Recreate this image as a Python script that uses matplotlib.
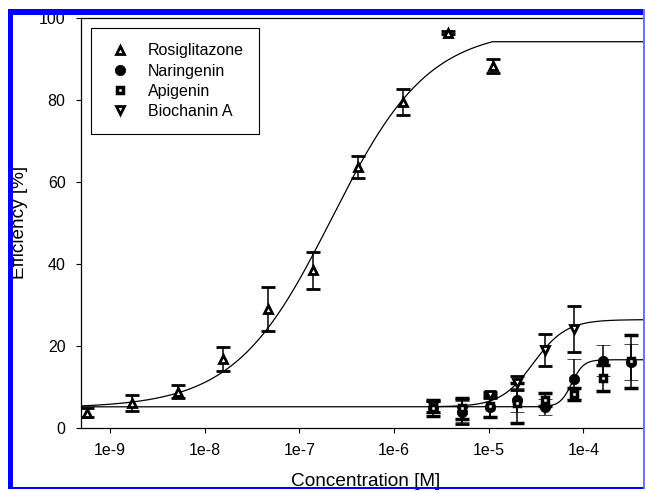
import numpy as np
import matplotlib
matplotlib.use("Agg")
import matplotlib.pyplot as plt
from matplotlib.lines import Line2D
from matplotlib.patches import Rectangle
from matplotlib.ticker import NullLocator

plt.rcParams['font.family'] = ['Liberation Sans', 'DejaVu Sans']

# ---------------- data ----------------
conc_rosi = [5.7e-10, 1.7e-9, 5.2e-9, 1.55e-8, 4.7e-8, 1.38e-7, 4.13e-7, 1.24e-6, 3.7e-6, 1.1e-5]
eff_rosi = [3.7, 6.0, 8.8, 16.8, 29.0, 38.4, 63.6, 79.6, 96.5, 88.4]
err_rosi = [1.2, 2.0, 1.6, 3.0, 5.3, 4.5, 2.7, 3.2, 0.3, 1.7]

conc_flav = [2.6e-6, 5.2e-6, 1.03e-5, 2.0e-5, 3.9e-5, 7.9e-5, 1.6e-4, 3.2e-4]
eff_nar = [4.9, 3.9, 5.1, 6.8, 5.1, 11.8, 16.4, 16.1]
err_nar = [1.3, 2.6, 2.4, 3.0, 2.0, 4.9, 3.8, 4.4]
eff_api = [4.8, 4.7, 5.3, 6.0, 6.8, 8.2, 12.2, 16.2]
err_api = [1.9, 2.5, 2.6, 4.9, 1.6, 1.4, 3.2, 6.45]

conc_bio = [2.6e-6, 5.2e-6, 1.03e-5, 2.0e-5, 3.9e-5, 7.9e-5]
eff_bio = [5.2, 4.0, 8.0, 10.9, 19.0, 24.1]
err_bio = [1.4, 3.0, 0.8, 1.8, 4.0, 5.6]

# fitted 4-parameter logistic curves: (bottom, top, EC50, hill slope)
fit_rosi = (4.8, 97.5, 2.2e-7, 0.85)
fit_nar = (5.1, 16.6, 7.55e-5, 7.0)
fit_bio = (5.1, 26.4, 2.96e-5, 2.5)

labels = ['Rosiglitazone', 'Naringenin', 'Apigenin', 'Biochanin A']
xtick_vals = [1e-9, 1e-8, 1e-7, 1e-6, 1e-5, 1e-4]
xtick_labels = ['1e-9', '1e-8', '1e-7', '1e-6', '1e-5', '1e-4']
ytick_vals = [0, 20, 40, 60, 80, 100]


def hill(x, p):
    b, t, ec, h = p
    return b + (t - b) / (1.0 + (ec / x) ** h)


W, H = 645, 491
fig = plt.figure(figsize=(W / 100, H / 100), dpi=100)
ax = fig.add_axes([81 / W, 1 - 427.7 / H, (W - 81) / W, (427.7 - 18.3) / H])

xmin, xmax = 4.94e-10, 4.48e-4
ax.set_xscale('log')
ax.set_xlim(xmin, xmax)
ax.set_ylim(0, 100)

# curves
xs = np.logspace(np.log10(xmin), np.log10(conc_rosi[-1]), 400)
ys = hill(xs, fit_rosi)
ax.plot(np.append(xs, xmax), np.append(ys, ys[-1]), color='black', lw=0.9, zorder=2)

xs = np.logspace(np.log10(xmin), np.log10(xmax), 600)
ax.plot(xs, hill(xs, fit_nar), color='black', lw=0.9, zorder=2)

xs = np.logspace(np.log10(conc_bio[0]), np.log10(xmax), 400)
ax.plot(xs, hill(xs, fit_bio), color='black', lw=0.9, zorder=2)

ekw = dict(ecolor='black', elinewidth=1.1, capsize=5.2, capthick=1.1, ls='none')
tri = dict(marker='^', ms=6.0, mfc='white', mec='black', mew=2.0)
cir = dict(marker='o', ms=7.5, mfc='black', mec='black', mew=0.5)
sq = dict(marker='s', ms=5.0, mfc='white', mec='black', mew=2.5)
vtri = dict(marker='v', ms=6.0, mfc='white', mec='black', mew=2.0)

ax.errorbar(conc_rosi, eff_rosi, yerr=err_rosi, zorder=3, **tri, **ekw)
ax.errorbar(conc_flav, eff_nar, yerr=err_nar, zorder=3, **cir, **ekw)
ax.errorbar(conc_bio, eff_bio, yerr=err_bio, zorder=3, **vtri, **ekw)
ax.errorbar(conc_flav, eff_api, yerr=err_api, zorder=3, **sq, **ekw)

# axes styling
ax.spines['right'].set_visible(False)
for s in ['left', 'bottom', 'top']:
    ax.spines[s].set_linewidth(0.9)
ax.set_xticks(xtick_vals)
ax.set_xticklabels(xtick_labels)
ax.xaxis.set_minor_locator(NullLocator())
ax.set_yticks(ytick_vals)
ax.tick_params(axis='both', direction='out', length=3.6, width=0.8,
               labelsize=11.5, pad=7.5, top=False, right=False)

ax.set_xlabel('Concentration [M]', fontsize=13.7)
ax.xaxis.set_label_coords((366 - 81) / 564, (427.7 - 486.0) / 409.4)
ax.xaxis.label.set_verticalalignment('baseline')
ax.set_ylabel('Efficiency [%]', fontsize=13.7)
ax.yaxis.set_label_coords((19.5 - 81) / 564, (427.7 - 222.5) / 409.4)
ax.yaxis.label.set_verticalalignment('center')

# legend
handles = [Line2D([], [], ls='none', label=labels[0], **tri),
           Line2D([], [], ls='none', label=labels[1], **cir),
           Line2D([], [], ls='none', label=labels[2], **sq),
           Line2D([], [], ls='none', label=labels[3], **vtri)]
leg = ax.legend(handles=handles, loc='upper left',
                bbox_to_anchor=((91 - 81) / 564, (427.7 - 28.3) / 409.4),
                borderaxespad=0, fontsize=11.5, frameon=True, fancybox=False,
                edgecolor='black', framealpha=1, borderpad=0.95,
                handlelength=1.73, handletextpad=0.87, labelspacing=0.32)
leg.get_frame().set_linewidth(0.8)

# blue selection frame of the screenshot
blue = '#0000ff'
def px_rect(x0, y0, x1, y1, color):
    fig.add_artist(Rectangle((x0 / W, 1 - y1 / H), (x1 - x0) / W, (y1 - y0) / H,
                             transform=fig.transFigure, facecolor=color,
                             edgecolor='none', zorder=10, clip_on=False))

px_rect(8, 9, W, 15, blue)
px_rect(8, 9, 13, 489, blue)
px_rect(8, 487.3, W, 489.3, blue)
px_rect(643.3, 9, W, 489.3, '#7070ff')

fig.savefig('out.png', dpi=100)
